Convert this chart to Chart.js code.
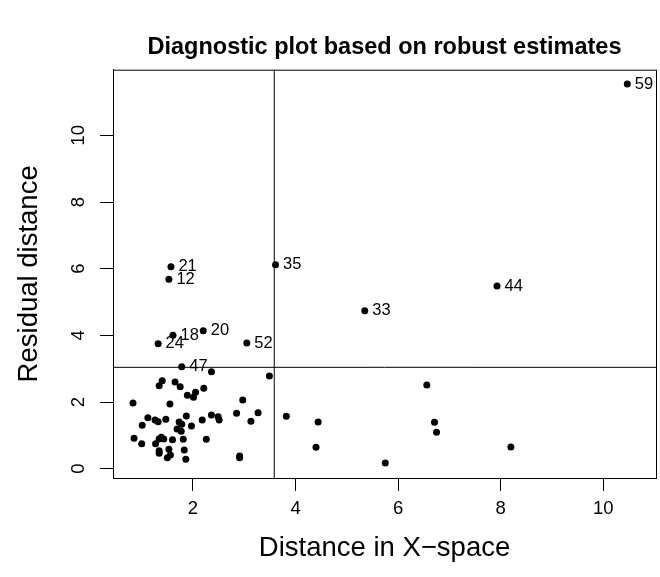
<!DOCTYPE html>
<html>
<head>
<meta charset="utf-8">
<script src="https://cdn.jsdelivr.net/npm/chart.js@4"></script>
<style>
  html, body { margin: 0; padding: 0; background: #fff; }
  #wrap { width: 660px; height: 577px; }
</style>
</head>
<body>
<div id="wrap"><canvas id="diagChart" width="660" height="577"></canvas></div>
<script>
// Regular observations
const ptX = [2.36, 3.49, 1.40, 1.34, 1.65, 1.75, 2.21, 2.05, 1.89, 2.01, 0.83, 1.55, 2.97,
    1.12, 1.26, 1.32, 1.47, 1.01, 1.87, 1.73, 1.78, 2.36, 2.49, 2.51, 2.18, 1.97, 1.69, 1.77,
    2.85, 3.13, 3.27, 0.85, 1.00, 1.27, 1.34, 1.43, 1.38, 1.60, 1.81, 2.26, 1.34, 1.34, 1.53,
    1.56, 1.50, 1.83, 1.86, 2.91, 2.91, 3.82, 4.44, 4.40, 5.75, 6.56, 6.71, 6.75, 8.20];
const ptY = [2.91, 2.78, 2.64, 2.49, 2.60, 2.46, 2.41, 2.29, 2.20, 2.14, 1.97, 1.94, 2.06,
    1.53, 1.46, 1.41, 1.48, 1.30, 1.58, 1.40, 1.33, 1.61, 1.56, 1.46, 1.46, 1.28, 1.19, 1.12,
    1.66, 1.42, 1.68, 0.91, 0.75, 0.75, 0.89, 0.89, 0.94, 0.87, 0.88, 0.88, 0.54, 0.46, 0.58,
    0.41, 0.33, 0.56, 0.28, 0.38, 0.33, 1.57, 1.40, 0.64, 0.17, 2.51, 1.39, 1.09, 0.65];

// Flagged observations (labelled with their index)
const outlierIds = ['21', '12', '35', '18', '20', '24', '52', '47', '33', '44', '59'];
const outlierX = [1.57, 1.53, 3.61, 1.61, 2.20, 1.32, 3.05, 1.78, 5.35, 7.93, 10.47];
const outlierY = [6.06, 5.68, 6.12, 4.00, 4.14, 3.75, 3.77, 3.06, 4.74, 5.48, 11.54];

// Cutoffs and axis settings
const xCutoff = 3.585;
const yCutoff = 3.04;
const xTicks = [2, 4, 6, 8, 10];
const yTicks = [0, 2, 4, 6, 8, 10];
const xRange = [0.44, 11.03];
const yRange = [-0.28, 11.97];

const FONT = "'Liberation Sans', Arial, Helvetica, sans-serif";

const toPoints = (xs, ys) => xs.map((x, i) => ({ x: x, y: ys[i] }));

// Box around the plot region
const frame = {
    id: 'frame',
    afterDraw(chart) {
        const { ctx, chartArea: a } = chart;
        ctx.save();
        ctx.strokeStyle = '#000';
        ctx.lineWidth = 1;
        ctx.strokeRect(a.left + 0.5, a.top + 0.5, a.right - a.left, a.bottom - a.top);
        ctx.restore();
    }
};

// Index labels next to the flagged points
const pointLabels = {
    id: 'pointLabels',
    afterDatasetsDraw(chart) {
        const meta = chart.getDatasetMeta(1);
        const ctx = chart.ctx;
        ctx.save();
        ctx.font = '16.5px ' + FONT;
        ctx.fillStyle = '#000';
        ctx.textAlign = 'left';
        ctx.textBaseline = 'middle';
        meta.data.forEach((el, i) => {
            ctx.fillText(outlierIds[i], el.x + 7.5, el.y);
        });
        ctx.restore();
    }
};

new Chart(document.getElementById('diagChart'), {
    type: 'scatter',
    data: {
        datasets: [
            {
                data: toPoints(ptX, ptY),
                backgroundColor: '#000',
                borderWidth: 0,
                pointRadius: 3.5
            },
            {
                data: toPoints(outlierX, outlierY),
                backgroundColor: '#000',
                borderWidth: 0,
                pointRadius: 3.5
            },
            {
                type: 'line',
                data: [{ x: xCutoff, y: yRange[0] }, { x: xCutoff, y: yRange[1] }],
                borderColor: '#000',
                borderWidth: 1,
                pointRadius: 0
            },
            {
                type: 'line',
                data: [{ x: xRange[0], y: yCutoff }, { x: xRange[1], y: yCutoff }],
                borderColor: '#000',
                borderWidth: 1,
                pointRadius: 0
            }
        ]
    },
    options: {
        responsive: false,
        animation: false,
        layout: { padding: 0 },
        plugins: {
            legend: { display: false },
            tooltip: { enabled: false },
            title: {
                display: true,
                text: 'Diagnostic plot based on robust estimates',
                fullSize: false,
                color: '#000',
                font: { family: FONT, size: 23.5, weight: 'bold', lineHeight: 1.2 },
                padding: { top: 33, bottom: 8.5 }
            }
        },
        scales: {
            x: {
                type: 'linear',
                min: xRange[0],
                max: xRange[1],
                afterBuildTicks: (s) => { s.ticks = xTicks.map(v => ({ value: v })); },
                afterFit: (s) => { s.height = 99; },
                grid: { drawOnChartArea: false, drawTicks: true, tickLength: 13, color: '#000' },
                border: { display: true, color: '#000', width: 1 },
                ticks: {
                    color: '#000',
                    padding: 7,
                    maxRotation: 0,
                    font: { family: FONT, size: 18.5 }
                },
                title: {
                    display: true,
                    text: 'Distance in X\u2212space',
                    color: '#000',
                    font: { family: FONT, size: 27.5, lineHeight: 1.2 },
                    padding: { top: 0, bottom: 12.5 }
                }
            },
            y: {
                type: 'linear',
                min: yRange[0],
                max: yRange[1],
                afterBuildTicks: (s) => { s.ticks = yTicks.map(v => ({ value: v })); },
                afterFit: (s) => { s.width = 113; },
                grid: { drawOnChartArea: false, drawTicks: true, tickLength: 13, color: '#000' },
                border: { display: true, color: '#000', width: 1 },
                ticks: {
                    color: '#000',
                    padding: 10.7,
                    minRotation: 90,
                    maxRotation: 90,
                    crossAlign: 'center',
                    font: { family: FONT, size: 18.5 }
                },
                title: {
                    display: true,
                    text: 'Residual distance',
                    color: '#000',
                    font: { family: FONT, size: 27.5, lineHeight: 1.2 },
                    padding: { top: 12.5, bottom: 0 }
                }
            }
        }
    },
    plugins: [frame, pointLabels]
});
</script>
</body>
</html>
